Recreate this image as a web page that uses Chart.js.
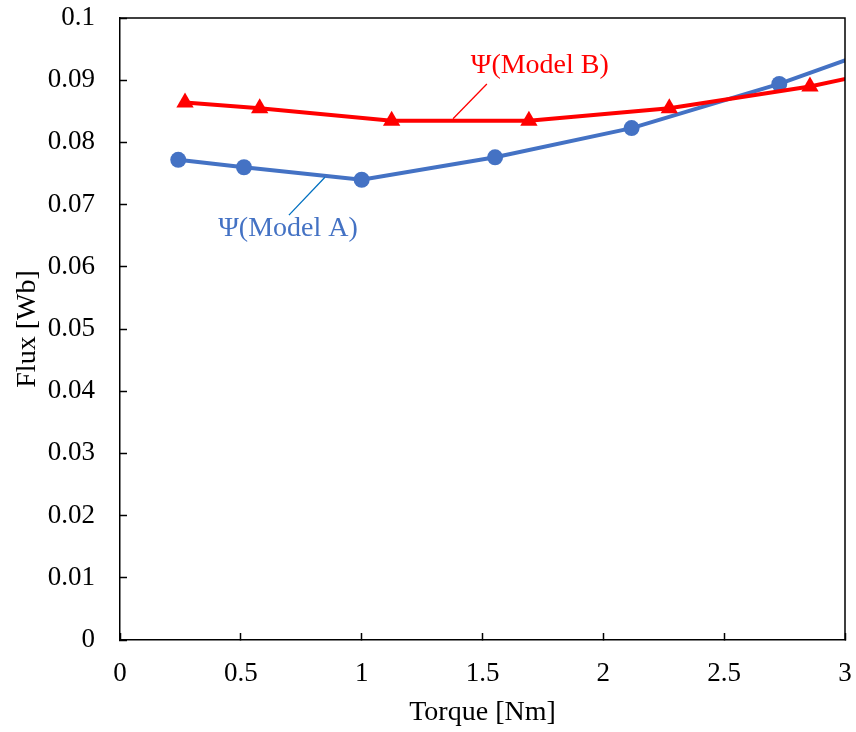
<!DOCTYPE html>
<html>
<head>
<meta charset="utf-8">
<script src="https://cdn.jsdelivr.net/npm/chart.js@4"></script>
<style>
  html, body { margin: 0; padding: 0; background: #fff; }
  #wrap { width: 856px; height: 732px; position: relative; }
</style>
</head>
<body>
<div id="wrap"><canvas id="fluxChart"></canvas></div>
<script>
// Torque [Nm] vs flux [Wb] (last points lie past x=3 and get clipped)
const torqueA = [0.241, 0.513, 1.0, 1.552, 2.117, 2.728, 3.3];
const fluxA   = [0.0772, 0.0760, 0.0740, 0.0776, 0.0823, 0.0894, 0.0974];
const torqueB = [0.269, 0.578, 1.124, 1.692, 2.273, 2.855, 3.4];
const fluxB   = [0.0864, 0.0855, 0.0835, 0.0835, 0.0855, 0.0890, 0.0935];
const labelA = 'Ψ(Model A)';
const labelB = 'Ψ(Model B)';

const BLUE = '#4472C4';
const RED = '#FF0000';
const FONT = "'Liberation Serif', 'Times New Roman', serif";

const toPoints = (xs, ys) => xs.map((x, i) => ({ x, y: ys[i] }));
const plain = v => String(+v.toFixed(3));

// box around the plot (top + right edges)
const frame = {
  id: 'frame',
  afterDraw(chart) {
    const { ctx, chartArea: a } = chart;
    ctx.save();
    ctx.strokeStyle = '#000';
    ctx.lineWidth = 1.5;
    ctx.beginPath();
    ctx.moveTo(a.left, a.top);
    ctx.lineTo(a.right, a.top);
    ctx.lineTo(a.right, a.bottom);
    ctx.stroke();
    ctx.restore();
  }
};

// callout labels with leader lines, placed in data coordinates
const callouts = {
  id: 'callouts',
  afterDatasetsDraw(chart) {
    const { ctx, scales: { x, y } } = chart;
    const items = [
      { text: labelB, color: RED, lineColor: RED, at: [1.737, 0.0923], from: [1.518, 0.0894], to: [1.378, 0.0838] },
      { text: labelA, color: BLUE, lineColor: '#0070C0', at: [0.695, 0.0662], from: [0.699, 0.0683], to: [0.848, 0.0744] }
    ];
    ctx.save();
    items.forEach(it => {
      ctx.strokeStyle = it.lineColor;
      ctx.lineWidth = 1.3;
      ctx.beginPath();
      ctx.moveTo(x.getPixelForValue(it.from[0]), y.getPixelForValue(it.from[1]));
      ctx.lineTo(x.getPixelForValue(it.to[0]), y.getPixelForValue(it.to[1]));
      ctx.stroke();
      ctx.fillStyle = it.color;
      ctx.font = `28px ${FONT}`;
      ctx.textAlign = 'center';
      ctx.textBaseline = 'middle';
      ctx.fillText(it.text, x.getPixelForValue(it.at[0]), y.getPixelForValue(it.at[1]));
    });
    ctx.restore();
  }
};

new Chart(document.getElementById('fluxChart'), {
  type: 'scatter',
  data: {
    datasets: [
      {
        label: labelB,
        data: toPoints(torqueB, fluxB),
        showLine: true,
        borderColor: RED,
        backgroundColor: RED,
        borderWidth: 4,
        pointStyle: 'triangle',
        pointRadius: 10,
        pointBorderWidth: 0,
        clip: 0,
        order: 0
      },
      {
        label: labelA,
        data: toPoints(torqueA, fluxA),
        showLine: true,
        borderColor: BLUE,
        backgroundColor: BLUE,
        borderWidth: 4,
        pointStyle: 'circle',
        pointRadius: 8,
        pointBorderWidth: 0,
        clip: 0,
        order: 1
      }
    ]
  },
  options: {
    responsive: true,
    maintainAspectRatio: false,
    animation: false,
    layout: { padding: { left: 0, top: 18, right: 11, bottom: 0 } },
    plugins: { legend: { display: false }, tooltip: { enabled: false } },
    scales: {
      x: {
        type: 'linear',
        min: 0, max: 3,
        ticks: { stepSize: 0.5, color: '#000', font: { family: FONT, size: 27 }, padding: 24.8, callback: plain },
        grid: { drawOnChartArea: false, color: '#000', tickLength: -7, tickWidth: 1.5 },
        border: { color: '#000', width: 1.5 },
        title: { display: true, text: 'Torque [Nm]', color: '#000', font: { family: FONT, size: 28 }, padding: { top: 0, bottom: 2.2 } },
        afterFit: s => { s.height = 92; s.paddingLeft = 0; s.paddingRight = 0; }
      },
      y: {
        type: 'linear',
        min: 0, max: 0.1,
        ticks: { stepSize: 0.01, color: '#000', font: { family: FONT, size: 27 }, padding: 32, callback: plain },
        grid: { drawOnChartArea: false, color: '#000', tickLength: -7, tickWidth: 1.5 },
        border: { color: '#000', width: 1.5 },
        title: { display: true, text: 'Flux [Wb]', color: '#000', font: { family: FONT, size: 28 }, padding: { top: 11.2, bottom: 0 } },
        afterFit: s => { s.width = 120; s.paddingTop = 0; s.paddingBottom = 0; }
      }
    }
  },
  plugins: [frame, callouts]
});
</script>
</body>
</html>
